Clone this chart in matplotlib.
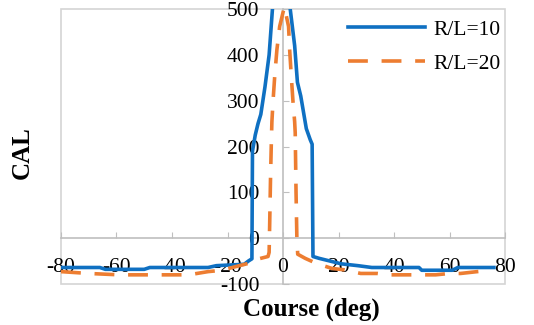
import matplotlib

matplotlib.use("Agg")
import matplotlib.pyplot as plt  # noqa: E402
from matplotlib.patches import Rectangle  # noqa: E402

# values
course_10 = [-80, -66, -64, -50, -48, -27, -24, -14, -12.5, -11.2, -11.0, -10.0,
             -9.0, -8.0, -6.5, -5.0, -3.8, 0, 2.6, 4.2, 5.2, 6.4, 8.4, 9.8,
             10.5, 10.8, 13, 17, 21, 27, 32, 49, 50, 61, 63, 76]
cal_10 = [-64, -64, -68, -68, -64, -64, -60, -57, -50, -45, 190, 225,
          250, 270, 330, 400, 500, 650, 500, 420, 340, 310, 239, 215,
          205, -40, -44, -50, -56, -60, -64, -64, -70, -70, -64, -64]

course_20 = [-80, -70, -59, -34, -27, -22, -17, -12.5, -10, -5.4, -5.0, -4.8,
             -4.5, -4.2, -4.0, -3.6, -3.0, -2.2, -1.2, 0.5, 2.0, 2.4, 3.0,
             3.6, 4.2, 4.4, 4.7, 5.0, 5.3, 8, 12, 17.6, 22, 28, 34, 38, 55,
             60, 64, 70, 75]
cal_20 = [-73, -77, -80, -80, -73, -70, -62, -55, -47, -40, -31, 30,
          130, 210, 254, 298, 352, 411, 462, 505, 462, 411, 352,
          298, 254, 230, 100, 0, -35, -44, -55, -66, -69, -77, -77, -80, -80,
          -77, -77, -73, -70]

x_ticks = [-80, -60, -40, -20, 0, 20, 40, 60, 80]
y_ticks = [-100, 0, 100, 200, 300, 400, 500]

plt.rcParams["font.family"] = ["Liberation Serif", "DejaVu Serif"]
plt.rcParams["axes.unicode_minus"] = False

fig = plt.figure(figsize=(5.34, 3.25), dpi=100)
ax = fig.add_axes([61 / 534, 1 - 284 / 325, 444 / 534, 275 / 325])

ax.plot(course_10, cal_10, color="#0F70C2", lw=2.6, label="R/L=10")
ax.plot(course_20, cal_20, color="#ED7D31", lw=2.6, dashes=(5.5, 3.8),
        dash_capstyle="butt", label="R/L=20")

ax.set_xlim(-80, 80)
ax.set_ylim(-100, 500)
ax.set_xticks(x_ticks)
ax.set_yticks(y_ticks)

# axes cross at zero, plot area framed in light gray
ax.spines["left"].set_position(("data", 0))
ax.spines["bottom"].set_position(("data", 0))
for side in ("left", "bottom"):
    ax.spines[side].set_color("#BFBFBF")
    ax.spines[side].set_linewidth(1.2)
    ax.spines[side].set_zorder(0.5)
for side in ("top", "right"):
    ax.spines[side].set_visible(False)
ax.add_patch(Rectangle((0, 0), 1, 1, transform=ax.transAxes, fill=False,
                       edgecolor="#D4D4D4", lw=1.2, clip_on=False, zorder=0.4))

ax.tick_params(axis="x", direction="in", length=4, color="#BFBFBF",
               pad=14, labelsize=15.5)
ax.tick_params(axis="y", direction="in", length=4, color="#BFBFBF",
               pad=17, labelsize=15.5)

ax.legend(loc="upper right", bbox_to_anchor=(1.015, 1.0), frameon=False,
          fontsize=15.5, handlelength=3.6, handletextpad=0.4,
          labelspacing=0.65, borderaxespad=0.1)

fig.text(22 / 534, 1 - 153 / 325, "CAL", rotation=90, fontsize=18,
         fontweight="bold", ha="center", va="center")
fig.text(311 / 534, 1 - 309 / 325, "Course (deg)", fontsize=18,
         fontweight="bold", ha="center", va="center")

fig.savefig("out.png", dpi=100)
plt.close(fig)
